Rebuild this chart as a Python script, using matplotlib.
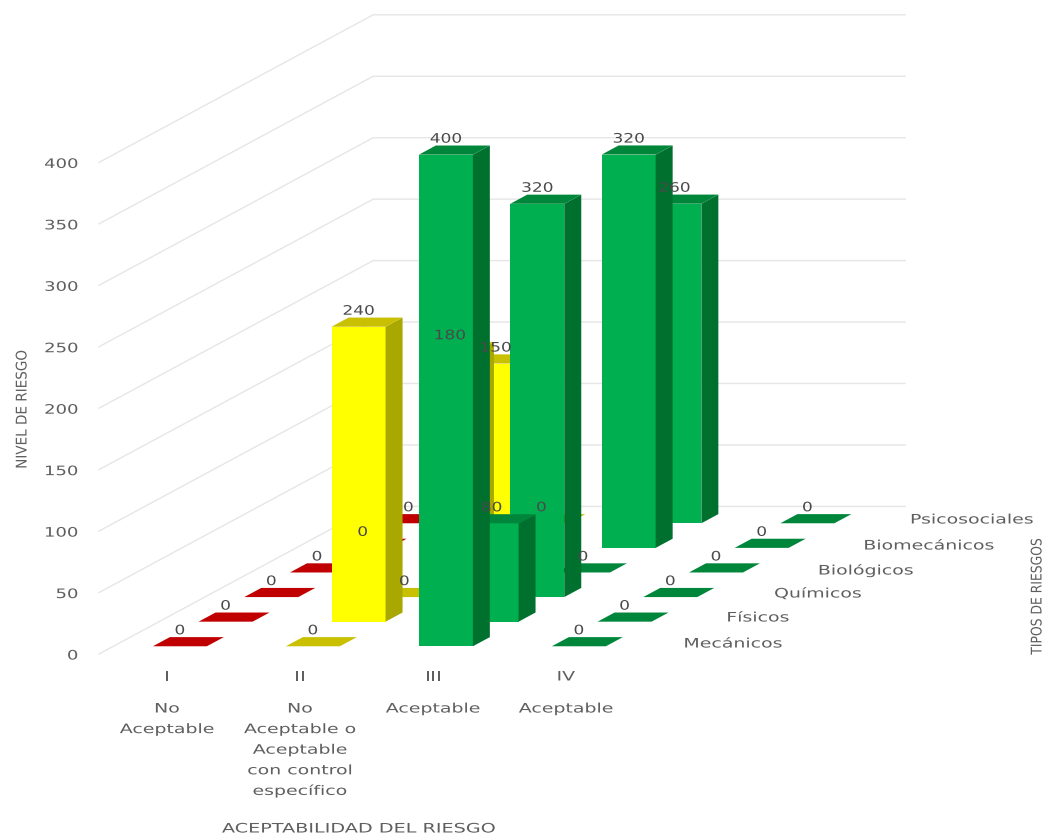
import matplotlib
matplotlib.use("Agg")
import matplotlib.pyplot as plt
from matplotlib.patches import Polygon
from matplotlib.patheffects import AbstractPathEffect
from matplotlib.transforms import Affine2D

# Chart data
levels = ["I", "II", "III", "IV"]
level_names = [
    ["No", "Aceptable"],
    ["No", "Aceptable o", "Aceptable", "con control", "específico"],
    ["Aceptable"],
    ["Aceptable"],
]
risk_types = ["Mecánicos", "Físicos", "Químicos", "Biológicos", "Biomecánicos", "Psicosociales"]
mecanicos = [0, 0, 400, 0]
fisicos = [0, 240, 80, 0]
quimicos = [0, 0, 320, 0]
biologicos = [0, 180, 0, 0]
biomecanicos = [0, 150, 320, 0]
psicosociales = [0, 0, 260, 0]
series_values = [mecanicos, fisicos, quimicos, biologicos, biomecanicos, psicosociales]
value_ticks = [0, 50, 100, 150, 200, 250, 300, 350, 400]

# (front face, side face, top face) per acceptability level
level_colors = [
    ("#ff0000", "#a00000", "#c00000"),
    ("#ffff00", "#a8a800", "#c8c000"),
    ("#00b050", "#00702f", "#00863a"),
    ("#00b050", "#00702f", "#00863a"),
]

# Oblique projection of the 3D plot box onto the page, in pixels
ORIGIN_X, ORIGIN_Y = 99.0, 654.0
CELL_W = 133.0
DEPTH_DX, DEPTH_DY = 45.7, -24.6
UNIT_H = 1.229
BAR_W = 54 / 133
BAR_D = 17 / 45.7


def project(cat, ser, val=0.0):
    """Map (category position, series position, value) to page pixels."""
    return (ORIGIN_X + cat * CELL_W + ser * DEPTH_DX,
            ORIGIN_Y + ser * DEPTH_DY - val * UNIT_H)


class Stretch(AbstractPathEffect):
    """Scale a text outline about its own box, for wide or condensed lettering."""

    def __init__(self, sx=1.0, sy=1.0, anchor=0.5):
        super().__init__()
        self.sx, self.sy, self.anchor = sx, sy, anchor

    def draw_path(self, renderer, gc, tpath, affine, rgbFace=None):
        box = tpath.get_extents(affine)
        cx = box.x0 + self.anchor * box.width
        cy = box.y0 + 0.5 * box.height
        scaled = affine + Affine2D().translate(-cx, -cy).scale(self.sx, self.sy).translate(cx, cy)
        renderer.draw_path(gc, tpath, scaled, rgbFace)


fig = plt.figure(figsize=(10.47, 8.36), dpi=100, facecolor="white")
ax = fig.add_axes([0, 0, 1, 1])
ax.set_xlim(0, 1047)
ax.set_ylim(836, 0)
ax.axis("off")

FONT_SIZE = 9.4
TEXT_GREY = "#5f5f5f"
WIDE = Stretch(sx=1.45)


def label(x, y, s, color=TEXT_GREY, size=FONT_SIZE, effect=WIDE, z=50, **kw):
    kw.setdefault("ha", "center")
    kw.setdefault("va", "center")
    return ax.text(x, y, s, color=color, fontsize=size, family="DejaVu Sans",
                   path_effects=[effect], zorder=z, **kw)


# Gridlines on the side wall and the back wall
n_cat, n_ser = len(levels), len(risk_types)
for tick in value_ticks:
    x0, y0 = project(0, 0, tick)
    x1, y1 = project(0, n_ser, tick)
    x2, y2 = project(n_cat, n_ser, tick)
    ax.plot([x0, x1, x2], [y0, y1, y2], color="#e6e6e6", lw=1.0, zorder=1,
            solid_joinstyle="miter")

# Bars, painted from the back row forward
z = 2
for s in range(n_ser - 1, -1, -1):
    for c in range(n_cat):
        val = series_values[s][c]
        face, side, top = level_colors[c]
        left = c + (1 - BAR_W) / 2
        right = left + BAR_W
        front = s + (1 - BAR_D) / 2
        back = front + BAR_D
        if val > 0:
            ax.add_patch(Polygon([project(left, front, 0), project(right, front, 0),
                                  project(right, front, val), project(left, front, val)],
                                 closed=True, fc=face, ec="none", zorder=z))
            ax.add_patch(Polygon([project(right, front, 0), project(right, back, 0),
                                  project(right, back, val), project(right, front, val)],
                                 closed=True, fc=side, ec="none", zorder=z))
        ax.add_patch(Polygon([project(left, front, val), project(right, front, val),
                              project(right, back, val), project(left, back, val)],
                             closed=True, fc=top, ec="none", zorder=z))
        z += 1

# Data labels sit above every bar
for s in range(n_ser):
    for c in range(n_cat):
        val = series_values[s][c]
        left = c + (1 - BAR_W) / 2
        front = s + (1 - BAR_D) / 2
        x, y = project(left + BAR_W / 2, front, val)
        label(x, y - 15.5, str(val), color="#4a4a4a", effect=Stretch(sx=1.3))

# Value axis labels
for tick in value_ticks:
    _, y = project(0, 0, tick)
    label(78, y + 2, str(tick), ha="right", effect=Stretch(sx=1.38, anchor=1.0))

# Category axis labels, one line of text at a time
LINE_STEP = 20.6
for c, (lvl, lines) in enumerate(zip(levels, level_names)):
    x, _ = project(c + 0.5, 0)
    label(x + 1.5, 677, lvl)
    for i, line in enumerate(lines):
        label(x + 1.5, 709 + i * LINE_STEP, line)

# Series axis labels along the depth edge
series_label_x = [733, 758, 818, 866, 929, 972]
series_label_y = [644, 618, 594, 571, 546, 520]
for name, x, y in zip(risk_types, series_label_x, series_label_y):
    label(x, y, name)

# Axis titles
label(358, 829, "ACEPTABILIDAD DEL RIESGO", effect=Stretch(sx=1.47))
label(22, 409, "NIVEL DE RIESGO", rotation=90, size=10.6, effect=Stretch(sy=0.92))
label(1037, 596, "TIPOS DE RIESGOS", rotation=90, size=10.6, effect=Stretch(sy=0.84))

fig.savefig("out.png", dpi=100, facecolor="white")
